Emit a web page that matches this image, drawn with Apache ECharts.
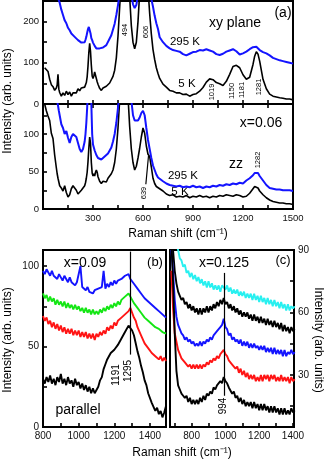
<!DOCTYPE html>
<html>
<head>
<meta charset="utf-8">
<script src="https://cdn.jsdelivr.net/npm/echarts@6/dist/echarts.min.js"></script>
<style>
  html, body { margin: 0; padding: 0; background: #fff; }
  #main { width: 327px; height: 460px; }
</style>
</head>
<body>
<div id="main"></div>
<script>
// ---- panel (a): Raman shift grid shared by both sub-panels
const aShift = [
  10, 20, 30, 40, 50, 60, 70, 80,
  85, 90, 95,
  100, 110, 120, 130, 140, 150, 160, 170, 180, 190, 200, 210, 220, 230, 240, 250,
  255, 260, 265, 270, 275, 280, 285, 290, 295, 300, 305, 310, 315, 320, 325, 330,
  340, 350, 360, 370, 380, 390, 400, 410, 420, 430, 440, 450, 460, 470, 480, 490, 500, 510, 520, 530, 540,
  550, 560, 570, 580, 590, 600, 610, 620, 630, 640, 650, 660, 670, 680, 690, 700,
  720, 740, 760, 780, 800, 820, 840, 860, 880, 900, 920, 940, 960, 980, 1000, 1020, 1040, 1060, 1080, 1100,
  1120, 1140, 1160, 1180, 1200, 1220, 1240, 1260,
  1270, 1280, 1290, 1300,
  1320, 1340, 1360, 1380, 1400, 1420, 1440, 1460, 1480, 1500
];
// xy plane
const xy5K = [
  88, 84, 79, 60, 47, 42, 33, 39,
  46, 72, 36,
  28, 19, 27, 21, 31, 23, 29, 19, 27, 31, 27, 37, 32, 39, 35, 41,
  44, 52, 66, 92, 125, 147, 128, 94, 68, 62, 68, 78, 74, 62, 54, 48,
  38, 33, 39, 35, 43, 43, 51, 54, 67, 82, 112, 165, 235, 300, 350, 380, 370, 330, 260, 190, 150,
  134, 150, 200, 270, 340, 380, 380, 340, 280, 220, 170, 132, 108, 88, 74, 62,
  48, 41, 33, 31, 27, 27, 23, 24, 19, 23, 25, 31, 40, 53, 61, 59, 52, 49, 45, 55,
  72, 91, 94, 88, 71, 60, 65, 96,
  116, 127, 121, 104,
  60, 37, 24, 19, 17, 15, 14, 12, 12, 10
];
const xy295K = [
  320, 310, 300, 290, 285, 280, 272, 266,
  262, 258, 252,
  246, 229, 216, 203, 196, 185, 179, 171, 169, 163, 161, 155, 153, 149, 149, 150,
  156, 163, 173, 182, 187, 183, 172, 160, 155, 149, 147, 141, 140, 135, 134, 131,
  135, 133, 137, 138, 143, 147, 159, 167, 181, 195, 216, 240, 270, 300, 330, 350, 350, 330, 300, 265, 242,
  233, 240, 265, 300, 340, 360, 360, 340, 310, 280, 255, 236, 214, 196, 182, 162,
  150, 141, 135, 131, 129, 127, 121, 118, 122, 126, 127, 131, 130, 133, 130, 127, 121, 119, 122, 127,
  130, 133, 128, 120, 123, 127, 133, 138,
  140, 139, 135, 131,
  126, 123, 118, 112, 109, 106, 104, 102, 100, 98
];
// x=0.06, zz
const zz5K = [
  140, 131, 124, 118, 101, 94, 72, 55,
  47, 41, 36,
  31, 28, 24, 31, 22, 16, 19, 27, 31, 33, 25, 20, 18, 25, 27, 31,
  35, 41, 49, 63, 81, 96, 88, 62, 48, 44, 47, 44, 49, 52, 49, 43,
  37, 34, 37, 38, 36, 41, 44, 47, 52, 62, 80, 108, 145, 165, 172, 176, 170, 150, 110, 80, 62,
  52, 57, 68, 81, 96, 108, 101, 84, 73, 70, 56, 41, 34, 30, 28, 27,
  24, 20, 18, 19, 16, 17, 16, 18, 15, 17, 16, 18, 16, 17, 15, 17, 16, 18, 17, 19,
  18, 17, 19, 18, 16, 17, 21, 27,
  30, 32, 28, 24,
  19, 15, 12, 10, 9, 8, 8, 7, 7, 6
];
const zz295K = [
  220, 210, 200, 190, 180, 170, 160, 150,
  144, 138, 131,
  125, 113, 108, 100, 104, 95, 88, 96, 100, 102, 96, 88, 80, 76, 80, 90,
  100, 115, 135, 160, 180, 190, 180, 140, 100, 86, 82, 78, 76, 72, 70, 68,
  68, 66, 68, 70, 72, 74, 78, 82, 90, 100, 115, 135, 160, 200, 230, 240, 240, 220, 180, 145, 125,
  118, 116, 118, 122, 128, 131, 125, 108, 92, 80, 68, 58, 52, 46, 42, 40,
  37, 34, 32, 31, 30, 31, 29, 30, 29, 31, 29, 30, 28, 30, 29, 31, 30, 32, 31, 33,
  32, 34, 33, 35, 34, 38, 41, 45,
  48, 50, 48, 44,
  38, 32, 28, 27, 26, 26, 25, 25, 25, 24
];

// ---- panel (b): x=0.09, parallel
const bShift = [
  800, 810, 820, 830, 840, 850, 860, 870, 880, 890,
  900, 910, 920, 930, 940, 950, 960, 970, 980, 990,
  1000, 1010, 1020, 1030, 1040, 1050, 1060, 1070, 1080, 1090,
  1100, 1110, 1120, 1130, 1140, 1150, 1160, 1170, 1180, 1190,
  1200, 1210, 1220, 1230, 1240, 1250, 1260, 1270, 1280, 1290,
  1300, 1310, 1320, 1330, 1340, 1350, 1360, 1370, 1380, 1390,
  1400, 1410, 1420, 1430, 1440, 1450, 1460, 1470, 1480, 1490
];
const bBlue = [
  97, 95, 98, 96, 94, 97, 94, 95, 92, 95,
  93, 91, 94, 92, 90, 93, 90, 91, 88, 90,
  89, 100, 87, 88, 85, 87, 84, 85, 83, 85,
  84, 86, 85, 87, 97, 86, 89, 87, 90, 88,
  91, 89, 91, 90, 92, 91, 94, 93, 95, 92,
  93, 89, 90, 86, 87, 83, 84, 80, 81, 78,
  79, 76, 77, 74, 75, 72, 73, 70, 70, 68
];
const bGreen = [
  83, 80, 82, 78, 81, 78, 80, 76, 79, 76,
  78, 75, 78, 74, 77, 74, 76, 73, 76, 73,
  75, 72, 74, 71, 74, 71, 73, 70, 73, 70,
  72, 70, 73, 71, 74, 72, 75, 73, 76, 74,
  77, 75, 78, 76, 79, 78, 81, 80, 83, 81,
  80, 77, 78, 74, 75, 71, 72, 68, 69, 66,
  67, 64, 65, 62, 63, 61, 61, 59, 60, 58
];
const bRed = [
  69, 66, 68, 64, 66, 62, 65, 61, 64, 60,
  63, 59, 62, 58, 61, 58, 61, 57, 60, 57,
  60, 56, 59, 56, 59, 55, 58, 55, 58, 54,
  58, 56, 59, 57, 60, 58, 62, 60, 63, 61,
  65, 63, 66, 65, 68, 67, 70, 69, 72, 74,
  71, 68, 66, 62, 61, 57, 56, 52, 53, 49,
  50, 46, 47, 44, 45, 42, 44, 41, 43, 41
];
const bBlack = [
  30, 27, 31, 28, 32, 27, 30, 26, 31, 28,
  33, 27, 30, 26, 31, 27, 29, 25, 30, 26,
  28, 24, 27, 23, 26, 22, 25, 21, 24, 21,
  23, 25, 29, 31, 36, 39, 42, 43, 46, 45,
  48, 47, 51, 50, 55, 54, 59, 58, 63, 64,
  60, 57, 52, 47, 43, 38, 34, 29, 26, 21,
  20, 15, 14, 10, 12, 8, 10, 6, 9, 13
];

// ---- panel (c): x=0.125
const cShift = [
  680, 690, 700, 710, 720, 730, 740, 750,
  760, 770, 780, 790, 800, 810, 820, 830, 840, 850,
  860, 870, 880, 890, 900, 910, 920, 930, 940, 950,
  960, 970, 980, 990, 1000, 1010, 1020, 1030, 1040, 1050,
  1060, 1070, 1080, 1090, 1100, 1110, 1120, 1130, 1140, 1150,
  1160, 1170, 1180, 1190, 1200, 1210, 1220, 1230, 1240, 1250,
  1260, 1270, 1280, 1290, 1300, 1310, 1320, 1330, 1340, 1350,
  1360, 1370, 1380, 1390, 1400, 1410
];
const cCyan = [
  110, 104, 98, 93, 90, 86, 85, 82,
  83, 79, 80, 77, 79, 76, 78, 75, 77, 74,
  76, 73, 75, 72, 75, 72, 74, 71, 73, 71,
  73, 70, 73, 72, 71, 73, 70, 72, 69, 71,
  69, 71, 68, 70, 68, 70, 67, 69, 67, 69,
  66, 69, 66, 68, 65, 68, 65, 67, 64, 67,
  64, 66, 63, 66, 63, 65, 62, 65, 62, 64,
  61, 64, 61, 63, 62, 63
];
const cBlack2 = [
  100, 90, 80, 74, 70, 68, 66, 67,
  64, 65, 62, 64, 61, 63, 60, 62, 59, 62,
  59, 62, 60, 63, 60, 63, 61, 64, 62, 65,
  63, 66, 64, 67, 64, 65, 62, 64, 61, 63,
  60, 62, 59, 61, 58, 60, 58, 60, 57, 59,
  56, 59, 56, 58, 55, 58, 55, 57, 54, 57,
  54, 56, 53, 56, 53, 55, 52, 55, 51, 54,
  51, 53, 50, 53, 51, 52
];
const cBlue = [
  90, 80, 66, 58, 54, 52, 50, 49,
  47, 48, 46, 47, 45, 46, 44, 45, 44, 46,
  44, 46, 45, 47, 46, 48, 47, 49, 49, 51,
  51, 53, 54, 57, 53, 52, 49, 50, 47, 48,
  46, 47, 45, 47, 44, 46, 44, 46, 43, 45,
  43, 45, 43, 44, 42, 44, 42, 44, 41, 43,
  41, 43, 40, 43, 40, 42, 40, 42, 39, 42,
  39, 41, 40, 42, 40, 41
];
const cRed = [
  80, 62, 50, 46, 42, 40, 38, 37,
  36, 36, 34, 35, 33, 35, 33, 35, 33, 35,
  33, 35, 34, 36, 35, 37, 36, 38, 37, 39,
  38, 40, 40, 42, 40, 39, 37, 37, 35, 35,
  33, 34, 31, 33, 30, 32, 29, 31, 28, 30,
  28, 30, 27, 29, 27, 30, 27, 30, 28, 30,
  27, 30, 28, 30, 27, 29, 27, 30, 27, 29,
  27, 29, 26, 29, 27, 28
];
const cBlack1 = [
  95, 75, 50, 32, 25, 23, 21, 20,
  19, 20, 17, 19, 16, 18, 16, 18, 16, 19,
  17, 20, 18, 21, 20, 22, 21, 24, 23, 25,
  25, 27, 26, 29, 27, 26, 24, 24, 21, 22,
  19, 20, 17, 19, 16, 18, 15, 17, 15, 17,
  14, 17, 14, 16, 13, 16, 13, 16, 13, 15,
  12, 15, 12, 15, 12, 14, 11, 14, 11, 14,
  11, 13, 11, 14, 12, 13
];

// tick / label positions
const aTicks = [150, 300, 450, 600, 750, 900, 1050, 1200, 1350];
const aLabels = [300, 600, 900, 1200, 1500];
const aUpTicks = [0, 50, 100, 150, 200];
const aUpLabels = [0, 100, 200];
const aLoTicks = [0, 25, 50, 75, 100, 125];
const aLoLabels = [0, 50, 100];
const bTicks = [900, 1000, 1100, 1200, 1300, 1400];
const bLabels = [800, 1000, 1200, 1400];
const bYTicks = [0, 25, 50, 75, 100];
const bYLabels = [0, 50, 100];
const cTicks = [700, 800, 900, 1000, 1100, 1200, 1300, 1400];
const cLabels = [800, 1000, 1200, 1400];
const cYTicks = [15, 30, 45, 60, 75, 90];
const cYLabels = [30, 60, 90];

const FONT = 'Liberation Sans, Arial, sans-serif';
const BLUE = '#1414ff', GREEN = '#14e614', RED = '#ff1414', CYAN = '#28f0f0', BLACK = '#000';

function pairs(xs, ys) { return xs.map((x, i) => [x, ys[i]]); }

function axis(gridIndex, pos, min, max, ticks, labels, fs) {
  return {
    type: 'value', gridIndex: gridIndex, position: pos, min: min, max: max,
    axisLine: { show: false },
    splitLine: { show: false },
    axisTick: { show: true, inside: true, length: 4, customValues: ticks,
      lineStyle: { color: '#000', width: 1.6 } },
    axisLabel: { show: labels.length > 0, customValues: labels, fontSize: fs,
      fontFamily: FONT, color: '#111', margin: 4,
      formatter: v => String(v) }
  };
}

function line(name, xi, yi, xs, ys, color, width) {
  return {
    name: name, type: 'line', xAxisIndex: xi, yAxisIndex: yi,
    data: pairs(xs, ys), showSymbol: false, clip: true,
    lineStyle: { color: color, width: width || 1.9 },
    itemStyle: { color: color }, silent: true
  };
}

function vline(x0, y0, x1, y1) {
  return {
    silent: true, symbol: ['none', 'none'], label: { show: false },
    lineStyle: { color: '#000', width: 1.2, type: 'solid' },
    data: [[{ coord: [x0, y0] }, { coord: [x1, y1] }]]
  };
}

function txt(s, x, y, size, rot) {
  return {
    type: 'text', x: x, y: y, rotation: rot || 0, silent: true,
    style: { text: s, fontSize: size, fontFamily: FONT, fill: '#000',
      textAlign: 'center', textVerticalAlign: 'middle', align: 'center', verticalAlign: 'middle' }
  };
}

const gridStyle = { show: true, borderColor: '#000', borderWidth: 2, backgroundColor: 'transparent' };

const chart = echarts.init(document.getElementById('main'));

const s639 = line('zz 5 K', 1, 1, aShift, zz5K, BLACK, 1.6);
s639.markLine = vline(633, 71, 617, 33);
const sB = line('b black', 3, 2, bShift, bBlack, BLACK);
sB.markLine = vline(1290, 109, 1290, 45);
const sC = line('c black', 4, 3, cShift, cBlack1, BLACK);
sC.markLine = vline(994, 79, 994, 20);

chart.setOption({
  animation: false,
  grid: [
    Object.assign({ left: 43, top: 1, width: 250, height: 103 }, gridStyle),
    Object.assign({ left: 43, top: 104, width: 250, height: 105 }, gridStyle),
    Object.assign({ left: 43, top: 250, width: 123, height: 177 }, gridStyle),
    Object.assign({ left: 170, top: 250, width: 124, height: 177 }, gridStyle)
  ],
  xAxis: [
    axis(0, 'bottom', 0, 1500, aTicks, [], 9.5),
    axis(1, 'bottom', 0, 1500, aTicks, aLabels, 9.5),
    axis(1, 'top', 0, 1500, aTicks, [], 9.5),
    axis(2, 'bottom', 800, 1490, bTicks, bLabels, 10),
    axis(3, 'bottom', 672, 1406, cTicks, cLabels, 10)
  ],
  yAxis: [
    axis(0, 'left', 0, 250, aUpTicks, aUpLabels, 9.5),
    axis(1, 'left', 0, 140, aLoTicks, aLoLabels, 9.5),
    axis(2, 'left', 0, 110, bYTicks, bYLabels, 10),
    axis(3, 'right', 5, 90, cYTicks, cYLabels, 10)
  ],
  series: [
    line('xy 5 K', 0, 0, aShift, xy5K, BLACK, 1.6),
    line('xy 295 K', 0, 0, aShift, xy295K, BLUE, 2),
    s639,
    line('zz 295 K', 1, 1, aShift, zz295K, BLUE, 2),
    line('b blue', 3, 2, bShift, bBlue, BLUE),
    line('b green', 3, 2, bShift, bGreen, GREEN),
    line('b red', 3, 2, bShift, bRed, RED),
    sB,
    line('c cyan', 4, 3, cShift, cCyan, CYAN),
    line('c black 2', 4, 3, cShift, cBlack2, BLACK),
    line('c blue', 4, 3, cShift, cBlue, BLUE),
    line('c red', 4, 3, cShift, cRed, RED),
    sC
  ],
  graphic: [
    // panel (a)
    txt('(a)', 283, 13, 14),
    txt('xy plane', 235, 23, 14),
    txt('295 K', 185, 42, 11.5),
    txt('5 K', 187, 84, 11.5),
    txt('494', 125, 30, 7.5, Math.PI / 2),
    txt('606', 146, 32, 7.5, Math.PI / 2),
    txt('1019', 212, 92, 7.5, Math.PI / 2),
    txt('1150', 231.5, 91, 7.5, Math.PI / 2),
    txt('1181', 241.5, 90, 7.5, Math.PI / 2),
    txt('1281', 258.5, 87, 7.5, Math.PI / 2),
    txt('x=0.06', 261, 123, 14),
    txt('zz', 236, 164, 14),
    txt('1282', 257.5, 160, 7.5, Math.PI / 2),
    txt('295 K', 183, 176, 11.5),
    txt('5 K', 180, 192, 11.5),
    txt('639', 144, 193, 7.5, Math.PI / 2),
    txt('Intensity (arb. units)', 8, 101, 12, Math.PI / 2),
    txt('Raman shift (cm\u207B\u00B9)', 178, 234, 12),
    // panel (b)
    txt('x=0.09', 85, 263, 14),
    txt('(b)', 155, 262, 13),
    txt('parallel', 78, 410, 14),
    txt('1191', 116, 375, 10, Math.PI / 2),
    txt('1295', 128.5, 371, 10, Math.PI / 2),
    txt('Intensity (arb. units)', 8, 340, 12, Math.PI / 2),
    // panel (c)
    txt('x=0.125', 224, 263, 14),
    txt('(c)', 283, 260, 13),
    txt('994', 223.5, 406, 10, Math.PI / 2),
    txt('Intensity (arb. units)', 318, 340, 12, -Math.PI / 2),
    txt('Raman shift (cm\u207B\u00B9)', 182, 453, 12)
  ]
});
</script>
</body>
</html>
